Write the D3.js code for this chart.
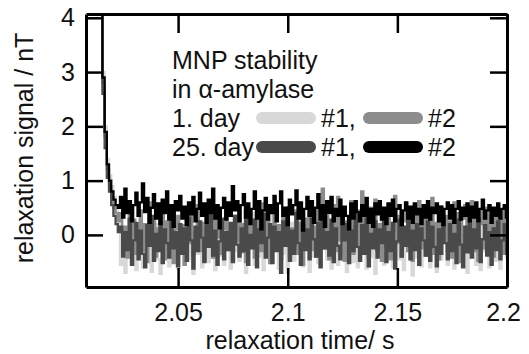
<!DOCTYPE html>
<html>
<head>
<meta charset="utf-8">
<script src="https://cdn.jsdelivr.net/npm/d3@7"></script>
<style>
body { margin: 0; background: #fff; }
text { font-family: "Liberation Sans", Arial, sans-serif; fill: #111; }
</style>
</head>
<body>
<div id="chart"></div>
<script>
// sampling grid of the recorded traces
var sampleStart = 2.008, sampleStep = 0.001;

var xTicks = [2.05, 2.1, 2.15, 2.2];
var xTickLabels = ["2.05", "2.1", "2.15", "2.2"];
var yTicks = [0, 1, 2, 3, 4];

// common start of every trace: saturated, then the fast decay
var decayDay1n1 = [4.5, 4.5, 4.5, 4.5, 4.5, 4.5, 4.5, 4.5, 3.0, 2.0, 1.4, 1.1, 0.9, 0.7, 0.45, 0.3];
var decayDay1n2 = [4.5, 4.5, 4.5, 4.5, 4.5, 4.5, 4.5, 4.5, 2.8, 1.8, 1.2, 0.9, 0.7, 0.5, 0.4, 0.25];
var decayDay25n1 = [4.5, 4.5, 4.5, 4.5, 4.5, 4.5, 4.5, 4.5, 2.6, 1.6, 1.05, 0.8, 0.55, 0.35, 0.2, 0.05];
var decayDay25n2 = [4.5, 4.5, 4.5, 4.5, 4.5, 4.5, 4.5, 4.5, 2.9, 1.9, 1.3, 1.0, 0.8, 0.65, 0.55, 0.5];

var day1n1 = [
  -0.55, 0.10, -0.70, -0.15, 0.25, -0.50, -0.05, -0.65, 0.15, -0.35,
  -0.60, 0.05, -0.25, 0.30, -0.68, -0.10, 0.20, -0.45, -0.72, 0.00,
  -0.30, 0.22, -0.58, -0.05, -0.40, 0.18, -0.62, 0.08, -0.20, -0.55,
  0.28, -0.45, -0.10, -0.72, 0.12, -0.35, 0.25, -0.60, -0.15, 0.10,
  -0.50, -0.20, 0.30, -0.65, 0.05, -0.38, 0.15, -0.55, -0.08, 0.22,
  -0.62, 0.02, -0.30, 0.35, -0.48, -0.12, 0.20, -0.70, 0.10, -0.25,
  0.40, -0.55, -0.02, -0.40, 0.25, -0.65, 0.12, -0.30, 0.45, -0.50,
  -0.15, 0.18, -0.62, 0.05, -0.35, 0.32, -0.70, -0.10, 0.22, -0.48,
  0.08, -0.28, 0.50, -0.58, -0.05, 0.20, -0.68, 0.02, -0.40, 0.28,
  -0.52, 0.12, -0.25, 0.60, -0.45, 0.05, -0.62, 0.30, -0.18, -0.55,
  0.45, -0.35, 0.10, -0.68, 0.22, -0.15, -0.50, 0.38, -0.60, 0.05,
  -0.28, 0.52, -0.62, 0.08, -0.40, 0.30, -0.72, 0.15, -0.20, 0.42,
  -0.55, 0.18, -0.32, 0.02, -0.60, 0.45, -0.15, -0.45, 0.28, -0.65,
  0.10, -0.30, 0.35, -0.75, 0.00, -0.42, 0.25, -0.58, 0.12, -0.35,
  0.45, -0.60, 0.05, -0.25, -0.68, 0.18, -0.45, 0.08, 0.32, -0.55,
  -0.10, 0.42, -0.62, 0.15, -0.35, 0.50, -0.50, 0.00, -0.70, 0.20,
  -0.40, 0.35, -0.55, 0.05, -0.65, 0.22, -0.30, 0.45, -0.60, -0.05,
  0.30, -0.48, 0.10, -0.62, -0.15, 0.25, -0.42
];

var day1n2 = [
  0.40, -0.25, 0.15, -0.42, 0.50, -0.10, 0.28, -0.35, 0.05, 0.45,
  -0.30, 0.20, -0.50, 0.60, -0.05, 0.32, -0.40, 0.12, -0.22, 0.38,
  -0.45, 0.25, -0.12, 0.48, -0.52, 0.10, 0.35, -0.28, 0.18, -0.55,
  0.30, -0.15, 0.45, -0.38, 0.05, 0.55, -0.30, 0.22, -0.48, 0.15,
  0.40, -0.20, -0.42, 0.28, -0.05, 0.48, -0.35, 0.10, 0.42, -0.28,
  0.05, -0.45, 0.35, -0.12, 0.52, -0.32, 0.20, -0.50, 0.38, -0.08,
  0.25, -0.42, 0.12, 0.45, -0.30, 0.58, -0.15, 0.30, -0.52, 0.10,
  0.42, -0.25, 0.18, -0.45, 0.35, -0.05, 0.50, -0.38, 0.12, -0.20,
  0.45, -0.35, 0.22, -0.55, 0.30, -0.10, 0.60, -0.28, 0.15, -0.40,
  0.50, -0.15, 0.85, -0.25, 0.35, -0.45, 0.20, 0.55, -0.30, 0.70,
  -0.10, 0.40, -0.48, 0.25, -0.20, 0.62, -0.35, 0.15, 0.45, -0.28,
  0.80, -0.05, 0.35, -0.42, 0.50, -0.18, 0.65, -0.30, 0.20, -0.48,
  0.40, -0.22, 0.55, -0.45, 0.10, 0.72, -0.15, 0.35, -0.40, 0.25,
  0.58, -0.30, 0.18, -0.48, 0.42, -0.05, 0.62, -0.25, 0.30, -0.38,
  0.45, -0.12, 0.68, -0.35, 0.22, -0.45, 0.52, -0.10, 0.35, -0.30,
  0.25, -0.42, 0.60, -0.15, 0.40, -0.50, 0.30, 0.55, -0.22, 0.15,
  0.62, -0.30, 0.38, -0.48, 0.20, 0.45, -0.25, 0.50, -0.10, 0.35,
  -0.40, 0.45, -0.15, 0.30, -0.35, 0.48, 0.05
];

var day25n1 = [
  0.15, -0.40, 0.05, -0.28, 0.30, -0.55, -0.10, 0.22, -0.45, 0.08,
  -0.35, -0.60, 0.18, -0.20, 0.35, -0.48, 0.02, -0.30, 0.25, -0.52,
  0.10, -0.15, -0.42, 0.28, -0.25, 0.05, -0.58, 0.20, -0.35, 0.12,
  -0.48, 0.32, -0.10, -0.62, 0.15, -0.30, 0.25, -0.05, -0.50, 0.18,
  -0.22, 0.40, -0.38, 0.08, -0.55, -0.12, 0.30, -0.45, 0.05, -0.28,
  0.22, -0.50, 0.35, -0.18, -0.40, 0.12, -0.30, 0.45, -0.55, 0.00,
  -0.25, 0.28, -0.60, 0.10, -0.15, 0.38, -0.42, -0.05, 0.20, -0.52,
  0.15, -0.30, 0.05, -0.70, 0.25, -0.20, 0.32, -0.48, 0.08, -0.35,
  0.40, -0.15, -0.55, 0.18, -0.28, 0.10, -0.45, 0.30, -0.08, -0.40,
  0.22, -0.60, 0.55, -0.25, 0.05, -0.38, 0.28, -0.50, 0.12, -0.20,
  -0.45, 0.35, -0.10, 0.20, -0.52, 0.08, -0.30, 0.40, -0.22, -0.48,
  0.18, -0.35, 0.30, -0.58, 0.02, -0.25, 0.25, -0.42, 0.10, -0.15,
  0.32, -0.50, 0.05, -0.30, 0.22, -0.62, -0.12, 0.28, -0.40, 0.15,
  -0.20, 0.35, -0.45, 0.08, -0.28, 0.20, -0.55, 0.12, -0.10, -0.38,
  0.25, -0.48, 0.15, -0.22, -0.58, 0.10, -0.35, 0.30, -0.15, -0.45,
  0.20, -0.30, 0.02, -0.52, 0.28, -0.18, -0.60, 0.15, -0.32, 0.22,
  -0.42, 0.10, -0.25, 0.30, -0.50, -0.08, 0.18, -0.38, 0.05, -0.55,
  0.12, -0.28, 0.25, -0.45, -0.10, 0.20, -0.35
];

var day25n2 = [
  0.70, 0.32, 0.85, 0.40, 0.62, 0.25, 0.55, 0.78, 0.35, 0.60,
  0.95, 0.42, 0.68, 0.22, 0.50, 0.75, 0.30, 0.58, 0.20, 0.65,
  0.40, 0.80, 0.28, 0.55, 0.15, 0.62, 0.45, 0.72, 0.30, 0.52,
  0.18, 0.60, 0.38, 0.70, 0.25, 0.48, 0.78, 0.35, 0.58, 0.22,
  0.65, 0.40, 0.85, 0.30, 0.55, 0.12, 0.50, 0.68, 0.28, 0.60,
  0.35, 0.90, 0.45, 0.62, 0.25, 0.55, 0.75, 0.32, 0.58, 0.20,
  0.48, 0.80, 0.30, 0.62, 0.10, 0.45, 0.68, 0.28, 0.55, 0.40,
  0.72, 0.25, 0.58, 0.80, 0.35, 0.50, 0.18, 0.65, 0.38, 0.55,
  0.82, 0.30, 0.60, 0.08, 0.48, 0.70, 0.35, 0.62, 0.22, 0.50,
  0.75, 0.28, 0.55, 0.15, 0.62, 0.40, 0.70, 0.25, 0.48, 0.35,
  0.65, 0.20, 0.52, 0.35, 0.10, 0.58, 0.30, 0.62, 0.42, 0.25,
  0.55, 0.35, 0.68, 0.22, 0.48, 0.15, 0.58, 0.38, 0.62, 0.28,
  0.50, 0.20, 0.58, 0.35, 0.65, 0.25, 0.48, 0.55, 0.18, 0.45,
  0.60, 0.30, 0.52, 0.22, 0.58, 0.38, 0.48, 0.20, 0.55, 0.32,
  0.62, 0.28, 0.50, 0.40, 0.58, 0.25, 0.52, 0.18, 0.48, 0.60,
  0.30, 0.55, 0.22, 0.48, 0.62, 0.28, 0.50, 0.35, 0.58, 0.25,
  0.52, 0.32, 0.60, 0.25, 0.48, 0.65, 0.30, 0.45, 0.55, 0.22,
  0.50, 0.35, 0.58, 0.30, 0.48, 0.55, 0.32
];

var series = [
  { key: "1. day #1", color: "#d8d8d8", values: decayDay1n1.concat(day1n1) },
  { key: "1. day #2", color: "#8c8c8c", values: decayDay1n2.concat(day1n2) },
  { key: "25. day #1", color: "#4a4a4a", values: decayDay25n1.concat(day25n1) },
  { key: "25. day #2", color: "#000000", values: decayDay25n2.concat(day25n2) }
];

var W = 529, H = 354;
var margin = { top: 14, right: 22, bottom: 67, left: 86 };

var svg = d3.select("#chart").append("svg")
  .attr("width", W)
  .attr("height", H);

var x = d3.scaleLinear()
  .domain([2.008, 2.2])
  .range([margin.left, W - margin.right]);

var y = d3.scaleLinear()
  .domain([-0.96, 4.07])
  .range([H - margin.bottom, margin.top]);

svg.append("clipPath")
  .attr("id", "plotclip")
  .append("rect")
  .attr("x", margin.left)
  .attr("y", margin.top)
  .attr("width", W - margin.left - margin.right)
  .attr("height", H - margin.top - margin.bottom);

var line = d3.line()
  .x(function (d, i) { return x(sampleStart + i * sampleStep); })
  .y(function (d) { return y(d); })
  .curve(d3.curveStep);

svg.append("g")
  .attr("clip-path", "url(#plotclip)")
  .selectAll("path")
  .data(series)
  .enter().append("path")
  .attr("d", function (d) { return line(d.values); })
  .attr("fill", "none")
  .attr("stroke", function (d) { return d.color; })
  .attr("stroke-width", 2.3);

// axes, ticks pointing inward on all four sides
var gBottom = svg.append("g")
  .attr("transform", "translate(0," + (H - margin.bottom) + ")")
  .call(d3.axisBottom(x).tickValues(xTicks)
    .tickFormat(function (d, i) { return xTickLabels[i]; })
    .tickSizeInner(-19).tickSizeOuter(0).tickPadding(16));

var gTop = svg.append("g")
  .attr("transform", "translate(0," + margin.top + ")")
  .call(d3.axisTop(x).tickValues(xTicks).tickFormat("")
    .tickSizeInner(-19).tickSizeOuter(0));

var gLeft = svg.append("g")
  .attr("transform", "translate(" + margin.left + ",0)")
  .call(d3.axisLeft(y).tickValues(yTicks).tickFormat(d3.format("d"))
    .tickSizeInner(-17).tickSizeOuter(0).tickPadding(11));

var gRight = svg.append("g")
  .attr("transform", "translate(" + (W - margin.right) + ",0)")
  .call(d3.axisRight(y).tickValues(yTicks).tickFormat("")
    .tickSizeInner(-17).tickSizeOuter(0));

[gBottom, gTop, gLeft, gRight].forEach(function (g) {
  g.select(".domain").attr("stroke", "#000").attr("stroke-width", 3);
  g.selectAll(".tick line").attr("stroke", "#000").attr("stroke-width", 2.5);
  g.selectAll(".tick text")
    .attr("font-size", 25)
    .attr("font-family", null)
    .attr("fill", "#111");
});
// the last x label sits a little inside the frame
gBottom.selectAll(".tick text").filter(function (d) { return d === 2.2; }).attr("dx", -4);

// axis titles
svg.append("text")
  .attr("x", 300)
  .attr("y", 349)
  .attr("text-anchor", "middle")
  .attr("font-size", 25)
  .text("relaxation time/ s");

svg.append("text")
  .attr("transform", "translate(33,148) rotate(-90)")
  .attr("text-anchor", "middle")
  .attr("font-size", 25)
  .text("relaxation signal / nT");

// legend
var legend = svg.append("g");
legend.append("text").attr("x", 172).attr("y", 69).attr("font-size", 25).text("MNP stability");
legend.append("text").attr("x", 172).attr("y", 98).attr("font-size", 25).text("in α-amylase");

var legendRows = [
  { label: "1. day", y: 127, items: [series[0], series[1]] },
  { label: "25. day", y: 156, items: [series[2], series[3]] }
];

legendRows.forEach(function (row) {
  legend.append("text").attr("x", 172).attr("y", row.y).attr("font-size", 25).text(row.label);
  row.items.forEach(function (s, j) {
    var x0 = j === 0 ? 262 : 369;
    legend.append("line")
      .attr("x1", x0).attr("x2", x0 + 48)
      .attr("y1", row.y - 9).attr("y2", row.y - 9)
      .attr("stroke", s.color)
      .attr("stroke-width", 12)
      .attr("stroke-linecap", "round");
    legend.append("text")
      .attr("x", j === 0 ? 321 : 428)
      .attr("y", row.y)
      .attr("font-size", 25)
      .text(j === 0 ? "#1," : "#2");
  });
});
</script>
</body>
</html>
